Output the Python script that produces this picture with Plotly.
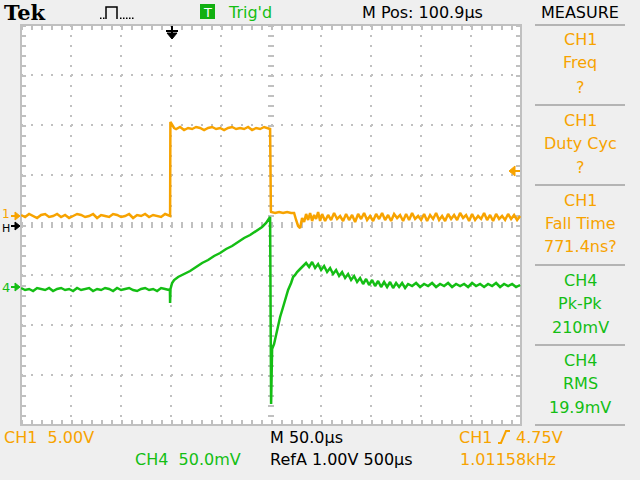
import plotly.graph_objects as go

ch1_time_us = [
    -149, -145, -141, -137, -133, -129, -125, -121, -117, -113,
    -109, -105, -101, -97, -93, -89, -85, -81, -77, -73,
    -69, -65, -61, -57, -53, -49, -45, -41, -37, -33,
    -29, -25, -21, -17, -13, -9, -5, -1,
    0.0, 0.3, 2, 4,
    6, 10, 14, 18, 22, 26, 30, 34, 38, 42, 46, 50, 54, 58, 62, 66, 70, 74, 78, 82, 86, 90, 94, 98,
    100, 100.8,
    101, 105, 109, 113, 117, 121, 124,
    126, 128, 130, 132, 134, 136, 138, 140, 142, 144, 146, 148, 150,
    152, 155, 158, 161, 164, 167, 170, 173, 176, 179,
    182, 185, 188, 191, 194, 197, 200, 203, 206, 209,
    212, 215, 218, 221, 224, 227, 230, 233, 236, 239,
    242, 245, 248, 251, 254, 257, 260, 263, 266, 269,
    272, 275, 278, 281, 284, 287, 290, 293, 296, 299,
    302, 305, 308, 311, 314, 317, 320, 323, 326, 329,
    332, 335, 338, 341, 344, 347, 350,
]
ch1_volts = [
    0.1, -0.1, 0.2, 0.0, -0.2, 0.1, 0.2, -0.1, 0.0, 0.2,
    -0.1, 0.1, -0.2, 0.0, 0.2, 0.1, -0.1, 0.0, 0.2, -0.2,
    0.1, 0.0, -0.1, 0.2, 0.1, -0.1, 0.0, 0.2, -0.2, 0.1,
    0.0, 0.2, -0.1, 0.1, 0.0, -0.1, 0.2, 0.0,
    0.0, 9.4, 9.1, 8.8,
    8.7, 8.9, 8.6, 8.8, 8.7, 8.9, 8.8, 8.6, 8.8, 8.9, 8.7, 8.8, 8.6, 8.8, 8.9, 8.7, 8.8, 8.7, 8.9, 8.6, 8.8, 8.7, 8.9, 8.8,
    8.7, 0.5,
    0.4, 0.3, 0.4, 0.3, 0.4, 0.3, 0.3,
    -0.4, -1.0, -1.2, -0.2, -0.6, 0.2, -0.4, 0.3, -0.5, 0.1, -0.3, 0.4, -0.5,
    0.2, -0.5, 0.1, -0.4, 0.3, -0.3, 0.0, -0.5, 0.2, -0.4,
    0.1, -0.6, 0.2, -0.3, 0.3, -0.4, 0.0, -0.5, 0.2, -0.3,
    0.3, -0.4, 0.1, -0.5, 0.2, -0.2, 0.1, -0.5, 0.2, -0.4,
    0.3, -0.3, 0.0, -0.4, 0.2, -0.5, 0.1, -0.3, 0.3, -0.4,
    0.0, -0.5, 0.2, -0.3, 0.1, -0.4, 0.3, -0.2, 0.1, -0.5,
    0.2, -0.4, 0.0, -0.3, 0.3, -0.4, 0.1, -0.5, 0.2, -0.3,
    0.0, -0.4, 0.2, -0.3, 0.1, -0.4, 0.0,
]

ch4_time_us = [
    -149, -145, -141, -137, -133, -129, -125, -121, -117, -113,
    -109, -105, -101, -97, -93, -89, -85, -81, -77, -73,
    -69, -65, -61, -57, -53, -49, -45, -41, -37, -33,
    -29, -25, -21, -17, -13, -9, -5, -1,
    -0.2, 0.0, 0.4, 2, 4, 8, 14, 20, 26, 32, 38, 44, 50, 56, 62, 68, 74, 80, 86, 92, 96, 100,
    101, 101.4, 102, 104, 106, 108, 110, 113, 116, 118, 121, 123, 125, 127, 130, 133, 136,
    139, 142, 145, 148, 151, 154, 157, 160, 163, 166, 169, 172, 175, 178, 181, 184, 187,
    190, 193, 196, 199, 202, 205, 208, 211, 214, 217, 220, 223, 226, 229, 232, 235, 238,
    242, 246, 250, 254, 258, 262, 266, 270, 274, 278, 282, 286, 290, 294,
    298, 302, 306, 310, 314, 318, 322, 326, 330, 334, 338, 342, 346, 350,
]
ch4_millivolts = [
    -1, -3, -2, -4, -1, -2, -3, -1, -4, -2,
    -1, -3, -2, -4, -1, -3, -2, -1, -4, -2,
    -3, -1, -2, -4, -1, -3, -2, -1, -3, -4,
    -2, -1, -3, -2, -4, -1, -2, -3,
    -2, -16, -2, 4, 7, 10, 13, 16, 20, 24, 27, 31, 34, 38, 41, 45, 49, 52, 56, 60, 64, 70,
    -117, -100, -62, -57, -48, -40, -30, -20, -10, -3, 4, 10, 12, 15, 18, 21, 24,
    20, 25, 19, 23, 17, 21, 15, 19, 13, 17, 11, 15, 9, 13, 7, 11, 5,
    9, 3, 8, 2, 7, 1, 6, 0, 5, 0, 5, -1, 4, 0, 4, -1, 3,
    1, 4, 0, 3, 1, 4, 0, 3, 1, 4, 0, 3, 1, 3,
    0, 4, 1, 3, 0, 3, 1, 4, 0, 3, 1, 3, 0, 2,
]

# scope settings
ch1_volts_per_div = 5.0
ch1_ground_div = 0.18
ch4_mv_per_div = 50.0
ch4_ground_div = -1.24
time_per_div_us = 50.0
x_center_us = 100.9

measure_labels = [
    ("CH1", "Freq", "?", "orange"),
    ("CH1", "Duty Cyc", "?", "orange"),
    ("CH1", "Fall Time", "771.4ns?", "orange"),
    ("CH4", "Pk-Pk", "210mV", "green"),
    ("CH4", "RMS", "19.9mV", "green"),
]

# ---------------- style ----------------
ORANGE = "#F7A300"
GREEN = "#14BE14"
GRID = "#C0C0C0"
BG = "#EFEFEF"
FONT = "DejaVu Sans"
COL = {"orange": ORANGE, "green": GREEN}

W, H = 640, 480
L, T, PW, PH = 21, 25, 500, 400


def px(x):
    return (x - L) / PW


def py(y):
    return (T + PH - y) / PH


def path(points, close=False):
    s = "M" + " L".join(f"{px(x):.5f},{py(y):.5f}" for x, y in points)
    return s + (" Z" if close else "")


fig = go.Figure()
fig.add_trace(go.Scatter(x=ch1_time_us, y=ch1_volts, mode="lines",
                         line=dict(color=ORANGE, width=2.5), yaxis="y", hoverinfo="skip"))
fig.add_trace(go.Scatter(x=ch4_time_us, y=ch4_millivolts, mode="lines",
                         line=dict(color=GREEN, width=2.5), yaxis="y2", hoverinfo="skip"))

x0 = x_center_us - 5 * time_per_div_us
x1 = x_center_us + 5 * time_per_div_us
ch1_range = [(-4 - ch1_ground_div) * ch1_volts_per_div, (4 - ch1_ground_div) * ch1_volts_per_div]
ch4_range = [(-4 - ch4_ground_div) * ch4_mv_per_div, (4 - ch4_ground_div) * ch4_mv_per_div]

fig.update_layout(
    width=W, height=H, autosize=False,
    margin=dict(l=L, r=W - L - PW, t=T, b=H - T - PH, pad=0),
    paper_bgcolor=BG, plot_bgcolor="white", showlegend=False,
    xaxis=dict(range=[x0, x1], showticklabels=False, ticks="", zeroline=False, showline=False,
               showgrid=True, tick0=x_center_us, dtick=time_per_div_us,
               gridcolor=GRID, gridwidth=2, griddash="2px,8px", fixedrange=True),
    yaxis=dict(range=ch1_range, showticklabels=False, ticks="", zeroline=False, showline=False,
               showgrid=True, tick0=ch1_range[0], dtick=ch1_volts_per_div,
               gridcolor=GRID, gridwidth=2, griddash="2px,8px", fixedrange=True),
    yaxis2=dict(range=ch4_range, overlaying="y", visible=False, fixedrange=True),
)

shapes = []
# centre cross with tick marks
shapes.append(dict(type="line", xref="paper", yref="paper", x0=0.5, x1=0.5, y0=1, y1=0,
                   line=dict(color=GRID, width=6, dash="2px,8px"), layer="below"))
shapes.append(dict(type="line", xref="paper", yref="paper", x0=0, x1=1, y0=0.5, y1=0.5,
                   line=dict(color=GRID, width=6, dash="2px,8px"), layer="below"))
# border ticks
shapes.append(dict(type="line", xref="paper", yref="paper", x0=0, x1=1, y0=py(T + 2.5), y1=py(T + 2.5),
                   line=dict(color=GRID, width=5, dash="2px,8px"), layer="below"))
shapes.append(dict(type="line", xref="paper", yref="paper", x0=0, x1=1, y0=py(T + PH - 2.5), y1=py(T + PH - 2.5),
                   line=dict(color=GRID, width=5, dash="2px,8px"), layer="below"))
shapes.append(dict(type="line", xref="paper", yref="paper", x0=px(L + 2.5), x1=px(L + 2.5), y0=1, y1=0,
                   line=dict(color=GRID, width=5, dash="2px,8px"), layer="below"))
shapes.append(dict(type="line", xref="paper", yref="paper", x0=px(L + PW - 2.5), x1=px(L + PW - 2.5), y0=1, y1=0,
                   line=dict(color=GRID, width=5, dash="2px,8px"), layer="below"))
# border
shapes.append(dict(type="rect", xref="paper", yref="paper", x0=0, x1=1, y0=0, y1=1,
                   line=dict(color=GRID, width=2), layer="below"))

# measure panel separators
for sy in [25, 105, 185, 265, 345, 425]:
    shapes.append(dict(type="line", xref="paper", yref="paper", x0=px(535), x1=px(625), y0=py(sy), y1=py(sy),
                       line=dict(color="#B4B4B4", width=2)))

# trigger-position marker (top)
shapes.append(dict(type="line", xref="paper", yref="paper", x0=px(166), x1=px(178), y0=py(31), y1=py(31),
                   line=dict(color="black", width=2)))
shapes.append(dict(type="line", xref="paper", yref="paper", x0=px(172), x1=px(172), y0=py(26), y1=py(34),
                   line=dict(color="black", width=2)))
shapes.append(dict(type="path", xref="paper", yref="paper",
                   path=path([(167, 33), (177, 33), (172, 39)], True),
                   fillcolor="black", line=dict(color="black", width=1)))
# trigger level marker (right)
shapes.append(dict(type="path", xref="paper", yref="paper",
                   path=path([(509, 171), (515, 166), (515, 176)], True),
                   fillcolor=ORANGE, line=dict(color=ORANGE, width=1)))
shapes.append(dict(type="line", xref="paper", yref="paper", x0=px(514), x1=px(520), y0=py(171), y1=py(171),
                   line=dict(color=ORANGE, width=2)))
# channel ground markers (left)
for my, c in [(216, ORANGE), (226, "black"), (287, GREEN)]:
    shapes.append(dict(type="path", xref="paper", yref="paper",
                       path=path([(20, my), (15, my - 4), (15, my + 4)], True),
                       fillcolor=c, line=dict(color=c, width=1)))
    shapes.append(dict(type="line", xref="paper", yref="paper", x0=px(11), x1=px(16), y0=py(my), y1=py(my),
                       line=dict(color=c, width=2)))

# pulse icon
shapes.append(dict(type="path", xref="paper", yref="paper",
                   path=path([(106, 19), (106, 7), (117, 7), (117, 19)]),
                   line=dict(color="black", width=1.5)))
for dx in [100, 103, 120, 123, 126, 129, 132]:
    shapes.append(dict(type="rect", xref="paper", yref="paper", x0=px(dx), x1=px(dx + 1.5),
                       y0=py(19), y1=py(17.5), fillcolor="black", line=dict(width=0)))
# Trig'd box
shapes.append(dict(type="rect", xref="paper", yref="paper", x0=px(200), x1=px(215), y0=py(19), y1=py(4),
                   fillcolor="#11B011", line=dict(width=0)))
# trigger slope symbol
shapes.append(dict(type="path", xref="paper", yref="paper",
                   path=path([(498, 443), (501, 443), (506, 431), (510, 431)]),
                   line=dict(color=ORANGE, width=2)))
fig.update_layout(shapes=shapes)

ann = []


def txt(x, y, s, color, size=16, xanchor="center", family=FONT, bold=False):
    ann.append(dict(xref="paper", yref="paper", x=px(x), y=py(y), text=(f"<b>{s}</b>" if bold else s),
                    showarrow=False, xanchor=xanchor, yanchor="middle",
                    font=dict(family=family, size=size, color=color)))


txt(2, 13, "Tek", "black", size=21, xanchor="left", family="DejaVu Serif", bold=True)
txt(207.5, 12, "T", "white", size=13)
txt(226, 12, "Trig'd", GREEN, xanchor="left")
txt(360, 12, "M Pos: 100.9µs", "black", xanchor="left")
txt(580, 12, "MEASURE", "black")

group_tops = [40, 120, 200, 280, 360]
for (a, b, c, col), gy in zip(measure_labels, group_tops):
    txt(580, gy, a, COL[col])
    txt(580, gy + 23, b, COL[col])
    txt(580, gy + 47, c, COL[col])

txt(2, 437, "CH1  5.00V", ORANGE, xanchor="left")
txt(133, 460, "CH4  50.0mV", GREEN, xanchor="left")
txt(268, 437, "M 50.0µs", "black", xanchor="left")
txt(268, 460, "RefA 1.00V 500µs", "black", xanchor="left")
txt(457, 437, "CH1", ORANGE, xanchor="left")
txt(514, 437, "4.75V", ORANGE, xanchor="left")
txt(458, 460, "1.01158kHz", ORANGE, xanchor="left")

txt(6, 214, "1", ORANGE, size=12)
txt(6, 228, "H", "black", size=11)
txt(6, 287, "4", GREEN, size=13)

fig.update_layout(annotations=ann)
fig.write_html(
    "out.html",
    config={"displayModeBar": False, "staticPlot": True},
    post_script="document.body.style.margin='0';document.body.style.background='#EFEFEF';",
)
